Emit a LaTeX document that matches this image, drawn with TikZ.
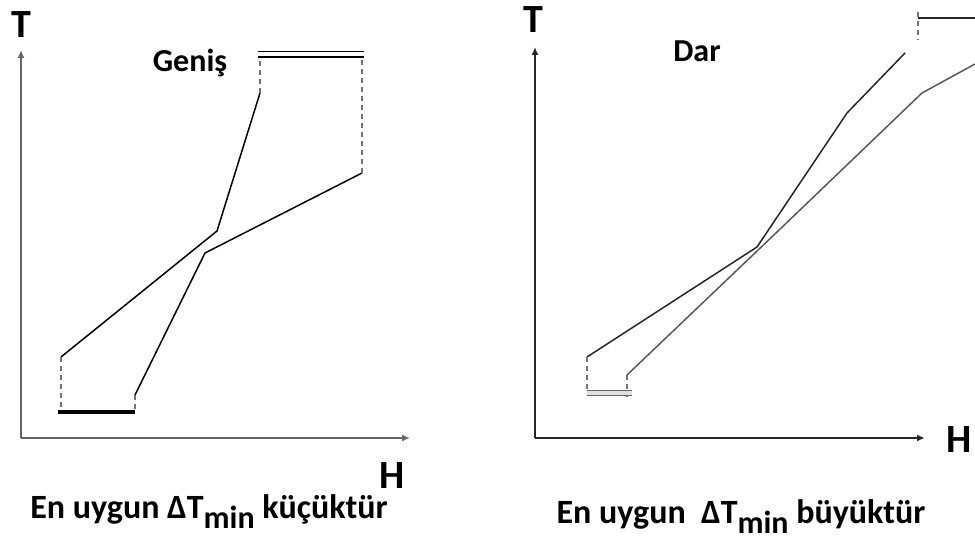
\documentclass[tikz,border=0pt]{standalone}
\usepackage{fontspec}
\setmainfont{Carlito}
\usepackage{tikz}
\usetikzlibrary{arrows.meta}

\begin{document}
\begin{tikzpicture}[
  x=1pt, y=-1pt,
  axis/.style={line width=1.8pt, -{Latex[length=8pt,width=7pt]}},
  curve/.style={line width=1.5pt, black!85},
  tie/.style={line width=1.5pt, black!55, dash pattern=on 5pt off 4pt},
  utility/.style={line width=1.4pt, double=white, double distance=4pt},
  axlabel/.style={font=\bfseries\fontsize{40}{40}\selectfont, inner sep=0pt, anchor=base},
  tag/.style={font=\bfseries\fontsize{32}{32}\selectfont, inner sep=0pt, anchor=base},
  caption/.style={font=\bfseries\fontsize{34}{34}\selectfont, inner sep=0pt, anchor=base}
]
\newcommand{\dtmin}{ΔT{\raisebox{-0.3em}{\fontsize{32}{32}\selectfont min}}}
\useasboundingbox (0,0) rectangle (975,545);

% left: wide
\coordinate (lo) at (21,438);
\coordinate (lt) at (21,50);
\coordinate (lh) at (410,438);
\draw[axis, black!60] (lo) -- (lt);
\draw[axis, black!60] (lo) -- (lh);
\node[axlabel] (lT) at (21,38) {T};
\node[axlabel] (lH) at (392,488) {H};
\node[tag] (genis) at (190,72) {Geniş};
\node[caption] (lcap) at (209,518) {En uygun \dtmin{} küçüktür};

\coordinate (a1) at (61,357);
\coordinate (a2) at (217,231);
\coordinate (a3) at (260,93);
\coordinate (b1) at (135,395);
\coordinate (b2) at (205,253);
\coordinate (b3) at (362,173);
\coordinate (c1) at (58,412);
\coordinate (c2) at (135,412);
\coordinate (h1) at (258,54.5);
\coordinate (h2) at (364,54.5);

\draw[curve, black] (a1) -- (a2) -- (a3);
\draw[curve, black] (b1) -- (b2) -- (b3);
\draw[tie] (a1) -- (a1 |- c1);
\draw[tie] (b1) -- (b1 |- c1);
\draw[tie] (a3) -- (a3 |- h1);
\draw[tie] (b3) -- (b3 |- h1);
\draw[line width=4pt] (c1) -- (c2);
\draw[utility] (h1) -- (h2);

% right: narrow
\coordinate (ro) at (535,438);
\coordinate (rt) at (535,47);
\coordinate (rh) at (925,438);
\draw[axis, black!85] (ro) -- (rt);
\draw[axis, black!85] (ro) -- (rh);
\node[axlabel] (rT) at (533,33) {T};
\node[axlabel] (rH) at (959,452) {H};
\node[tag] (dar) at (697,62) {Dar};
\node[caption] (rcap) at (741,523) {En uygun\ \ \dtmin{} büyüktür};

\coordinate (p1) at (587,357);
\coordinate (p2) at (757,247);
\coordinate (p3) at (847,113);
\coordinate (p4) at (905,53);
\coordinate (q1) at (627,375);
\coordinate (q2) at (777,232);
\coordinate (q3) at (922,93);
\coordinate (q4) at (975,64);
\coordinate (s1) at (587,393);
\coordinate (s2) at (632,393);
\coordinate (u1) at (918,12);
\coordinate (u2) at (975,18);

\draw[curve] (p1) -- (p2) -- (p3) -- (p4);
\draw[curve, black!65] (q1) -- (q2) -- (q3) -- (q4);
\draw[tie] (p1) -- (p1 |- s1);
\draw[tie] (q1) -- ([yshift=-4pt]q1 |- s1);
\draw[line width=1pt, black!60, double=black!12, double distance=3.5pt] (s1) -- (s2);
\draw[tie] (u1) -- (918,40);
\draw[line width=1.8pt, black!85] (u1 |- u2) -- (u2);
\end{tikzpicture}
\end{document}
